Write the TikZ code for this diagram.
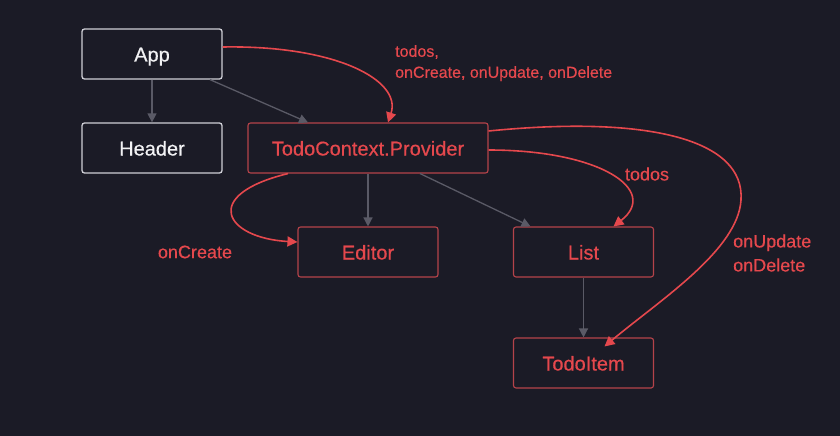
\documentclass[tikz,border=0pt]{standalone}
\usepackage{fontspec}
\setmainfont{Liberation Sans}[FakeBold=0.5]
\usetikzlibrary{arrows.meta}
\usepackage{xcolor}
\definecolor{bgdark}{HTML}{1B1B26}
\definecolor{txtwhite}{HTML}{F2F2F4}
\definecolor{boxwhite}{HTML}{CFCFD6}
\definecolor{boxred}{HTML}{B5434A}
\definecolor{propred}{HTML}{E5484D}
\definecolor{treegray}{HTML}{5A5A66}

\begin{document}
\begin{tikzpicture}[x=1pt, y=-1pt,
    box/.style={draw=boxwhite, line width=1.3pt, rounded corners=2.5pt, minimum width=140pt, minimum height=50pt, inner sep=0pt, text height=15pt, text depth=0pt, text=txtwhite, font=\fontsize{20}{24}\selectfont},
    redbox/.style={box, draw=boxred, line width=1.1pt, text=propred},
    proplabel/.style={text=propred, font=\fontsize{18}{24}\selectfont, align=left, inner sep=0pt},
    tree/.style={draw=treegray, line width=1.3pt, -{Triangle[length=9pt, width=9pt]}},
    pass/.style={draw=propred, line width=1.6pt, -{Triangle[length=10pt, width=10pt]}}]
    \fill[bgdark] (0,0) rectangle (840,436);
    \useasboundingbox (0,0) rectangle (840,436);

    % components
    \node[box] (app) at (152,54) {App};
    \node[box] (header) at (152,148) {Header};
    \node[redbox, minimum width=240pt] (prov) at (368,148) {TodoContext.Provider};
    \node[redbox] (editor) at (368,252) {Editor};
    \node[redbox] (list) at (583.5,252) {List};
    \node[redbox] (item) at (583.5,363) {TodoItem};

    % render tree
    \draw[tree] (app.south) -- (header.north);
    \draw[tree] ([xshift=58pt]app.south) -- ([xshift=-60pt]prov.north);
    \draw[tree] (prov.south) -- (editor.north);
    \draw[tree] ([xshift=52pt]prov.south) -- ([xshift=-53pt]list.north);
    \draw[tree] (list.south) -- (item.north);

    % values passed down
    \draw[pass] ([yshift=7pt]app.east) .. controls (335,45) and (402,80) .. ([xshift=20pt]prov.north);
    \draw[pass] ([xshift=-80pt]prov.south) .. controls (200,195) and (225,238) .. ([yshift=10pt]editor.west);
    \draw[pass] ([yshift=-2pt]prov.east) .. controls (600,150) and (660,190) .. ([xshift=30pt]list.north);
    \draw[pass] ([yshift=17pt]prov.east) .. controls (650,115) and (745,140) .. (741,200)
        .. controls (738,250) and (660,300) .. ([xshift=21pt,yshift=-9pt]item.north);

    % labels
    \node[proplabel, font=\fontsize{16}{21}\selectfont, anchor=north west] (lblctx) at (395,45) {todos,\\onCreate, onUpdate, onDelete};
    \node[proplabel] (lblcreate) at (195,252) {onCreate};
    \node[proplabel] (lbltodos) at (647,174) {todos};
    \node[proplabel, anchor=west] (lblitem) at (733,253) {onUpdate\\onDelete};
\end{tikzpicture}
\end{document}
